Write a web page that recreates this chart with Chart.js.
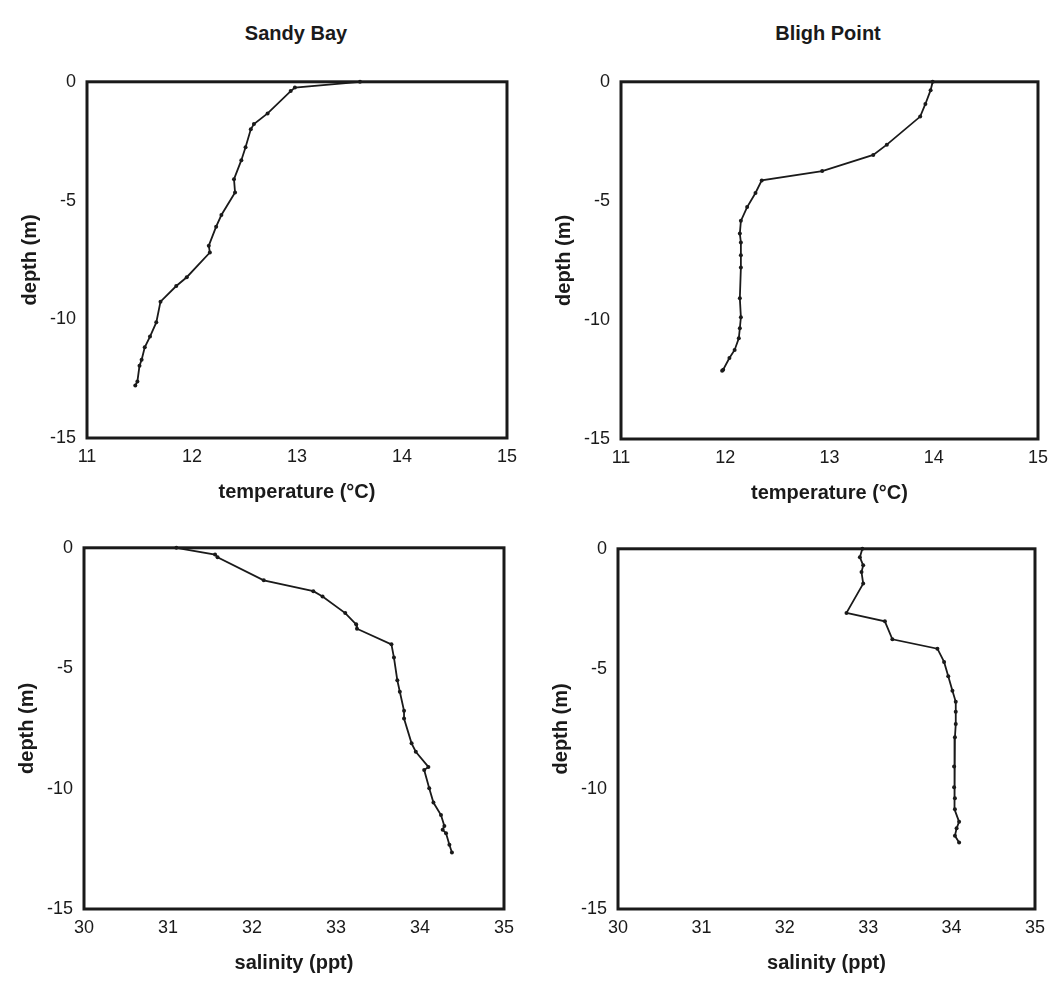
<!DOCTYPE html>
<html>
<head>
<meta charset="utf-8">
<title>Sandy Bay / Bligh Point profiles</title>
<script src="https://cdn.jsdelivr.net/npm/chart.js@4/dist/chart.umd.min.js"></script>
<style>
    body { margin: 0; background: #fff; }
    #page { position: relative; width: 1054px; height: 989px; overflow: hidden; background: #fff; }
    .site {
        position: absolute; top: 22px; width: 200px; text-align: center;
        font: bold 20px "Liberation Sans", Arial, sans-serif; color: #1a1a1a;
    }
    canvas { position: absolute; }
</style>
</head>
<body>
<div id="page">
    <div class="site" style="left: 196px;">Sandy Bay</div>
    <div class="site" style="left: 728px;">Bligh Point</div>
    <canvas id="sandyTempChart" width="518" height="458" style="left: 7px; top: 60px;"></canvas>
    <canvas id="blighTempChart" width="515" height="459" style="left: 541px; top: 60px;"></canvas>
    <canvas id="sandySalChart" width="518" height="463" style="left: 4px; top: 526px;"></canvas>
    <canvas id="blighSalChart" width="515" height="462" style="left: 538px; top: 527px;"></canvas>
</div>
<script>
// --- Data ---
const sandyTempDepth = [0, -0.24, -0.39, -1.33, -1.78, -2.0, -2.76, -3.3, -4.1, -4.66, -5.61, -6.1, -6.9, -7.19, -8.23, -8.6, -9.26, -10.13, -10.73, -11.18, -11.71, -11.96, -12.62, -12.79];
const sandyTemp = [13.6, 12.98, 12.94, 12.72, 12.59, 12.56, 12.51, 12.47, 12.4, 12.41, 12.28, 12.23, 12.16, 12.17, 11.95, 11.85, 11.7, 11.66, 11.6, 11.55, 11.52, 11.5, 11.48, 11.46];

const blighTempDepth = [0, -0.35, -0.93, -1.46, -2.64, -3.07, -3.75, -4.14, -4.67, -5.26, -5.84, -6.37, -6.75, -7.28, -7.8, -9.09, -9.89, -10.35, -10.77, -11.26, -11.6, -12.09, -12.13];
const blighTemp = [13.99, 13.97, 13.92, 13.87, 13.55, 13.42, 12.93, 12.35, 12.29, 12.21, 12.15, 12.14, 12.15, 12.15, 12.15, 12.14, 12.15, 12.14, 12.13, 12.09, 12.04, 11.98, 11.97];

const sandySalDepth = [0, -0.28, -0.39, -1.35, -1.8, -2.02, -2.71, -3.18, -3.36, -4.01, -4.56, -5.5, -5.98, -6.77, -7.09, -8.12, -8.47, -9.1, -9.23, -9.99, -10.58, -11.1, -11.55, -11.71, -11.85, -12.33, -12.65];
const sandySal = [31.1, 31.56, 31.59, 32.14, 32.73, 32.84, 33.11, 33.24, 33.25, 33.66, 33.69, 33.73, 33.76, 33.81, 33.81, 33.9, 33.95, 34.1, 34.05, 34.11, 34.16, 34.25, 34.29, 34.27, 34.31, 34.35, 34.38];

const blighSalDepth = [0, -0.35, -0.69, -0.97, -1.45, -2.67, -3.02, -3.77, -4.16, -4.71, -5.31, -5.91, -6.37, -6.79, -7.3, -7.85, -9.07, -9.93, -10.39, -10.85, -11.37, -11.64, -11.95, -12.23];
const blighSal = [32.93, 32.9, 32.94, 32.92, 32.94, 32.74, 33.2, 33.29, 33.83, 33.91, 33.96, 34.01, 34.05, 34.05, 34.05, 34.04, 34.03, 34.03, 34.04, 34.04, 34.09, 34.06, 34.04, 34.09];

// axis ranges / ticks
const depthRange = [-15, 0];
const depthStep = 5;
const tempRange = [11, 15];
const salRange = [30, 35];

const ink = '#1a1a1a';
const fontFamily = '"Liberation Sans", Arial, sans-serif';

// --- Box around the plot area ---
const framePlugin = {
    id: 'frame',
    afterDatasetsDraw(chart) {
        const { ctx, chartArea: a } = chart;
        ctx.save();
        ctx.strokeStyle = ink;
        ctx.lineWidth = 3;
        ctx.strokeRect(a.left, a.top, a.right - a.left, a.bottom - a.top);
        ctx.restore();
    }
};

function makeProfile(canvasId, xs, depths, xRange, xTitle) {
    const points = xs.map((v, i) => ({ x: v, y: depths[i] }));
    new Chart(document.getElementById(canvasId), {
        type: 'scatter',
        data: {
            datasets: [{
                data: points,
                showLine: true,
                borderColor: ink,
                borderWidth: 1.8,
                pointRadius: 2,
                pointBackgroundColor: ink,
                pointBorderWidth: 0,
                clip: false
            }]
        },
        options: {
            responsive: false,
            animation: false,
            devicePixelRatio: 1,
            layout: { padding: { top: 15, right: 15, left: 0, bottom: 0 } },
            plugins: {
                legend: { display: false },
                tooltip: { enabled: false }
            },
            scales: {
                x: {
                    type: 'linear',
                    min: xRange[0],
                    max: xRange[1],
                    grid: { display: false, drawTicks: false },
                    border: { display: false },
                    afterFit: (scale) => { scale.height = 80; },
                    ticks: {
                        stepSize: 1,
                        padding: 8,
                        color: ink,
                        font: { family: fontFamily, size: 18 }
                    },
                    title: {
                        display: true,
                        text: xTitle,
                        color: ink,
                        padding: { top: 0, bottom: 14 },
                        font: { family: fontFamily, size: 20, weight: 'bold' }
                    }
                },
                y: {
                    type: 'linear',
                    min: depthRange[0],
                    max: depthRange[1],
                    grid: { display: false, drawTicks: false },
                    border: { display: false },
                    afterFit: (scale) => { scale.width = 80; },
                    ticks: {
                        stepSize: depthStep,
                        padding: 11,
                        color: ink,
                        font: { family: fontFamily, size: 18 }
                    },
                    title: {
                        display: true,
                        text: 'depth (m)',
                        color: ink,
                        padding: { top: 11, bottom: 0 },
                        font: { family: fontFamily, size: 20, weight: 'bold' }
                    }
                }
            }
        },
        plugins: [framePlugin]
    });
}

// --- Four panels ---
makeProfile('sandyTempChart', sandyTemp, sandyTempDepth, tempRange, 'temperature (°C)');
makeProfile('blighTempChart', blighTemp, blighTempDepth, tempRange, 'temperature (°C)');
makeProfile('sandySalChart', sandySal, sandySalDepth, salRange, 'salinity (ppt)');
makeProfile('blighSalChart', blighSal, blighSalDepth, salRange, 'salinity (ppt)');
</script>
</body>
</html>
